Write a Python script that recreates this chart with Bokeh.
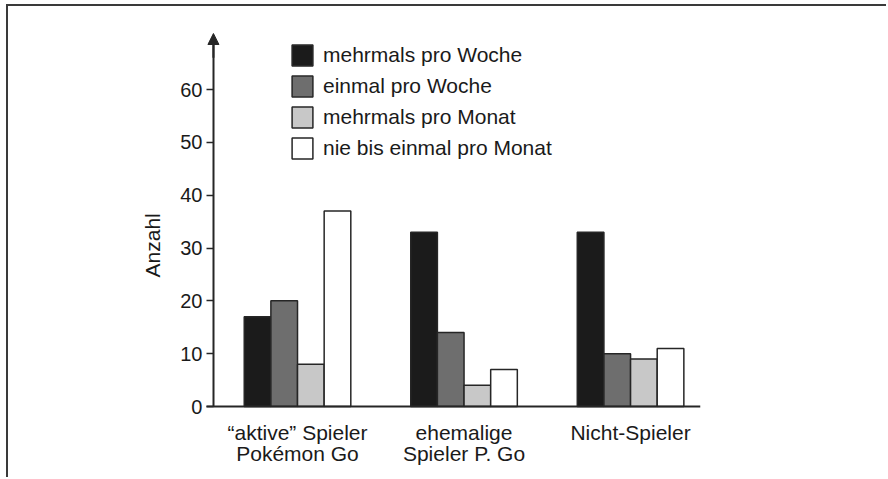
import math
from bokeh.plotting import figure
from bokeh.models import (Range1d, FixedTicker, Legend, LegendItem, Label, Arrow,
                          NormalHead, ColumnDataSource)
from bokeh.embed import file_html
from bokeh.resources import INLINE

# ---- data ----
groups = ["\u201caktive\u201d Spieler\nPok\u00e9mon Go", "ehemalige\nSpieler P. Go", "Nicht-Spieler"]
series = ["mehrmals pro Woche", "einmal pro Woche", "mehrmals pro Monat", "nie bis einmal pro Monat"]
mehrmals_woche = [17, 33, 33]
einmal_woche = [20, 14, 10]
mehrmals_monat = [8, 4, 9]
nie_monat = [37, 7, 11]
y_ticks = [0, 10, 20, 30, 40, 50, 60]
y_label = "Anzahl"

values = [mehrmals_woche, einmal_woche, mehrmals_monat, nie_monat]
colors = ["#1b1b1b", "#6e6e6e", "#c8c8c8", "#ffffff"]
FONT = "Liberation Sans"
INK = "#262626"
TXT = "#1a1a1a"

X0 = -0.505  # position of the y axis (data units)

W, H = 880, 473
p = figure(width=W, height=H, output_backend="svg", toolbar_location=None,
           x_range=Range1d(-1.003, 2.42), y_range=Range1d(-13.06, 71.17),
           min_border_left=122, min_border_right=188, min_border_top=24, min_border_bottom=4)
p.styles = {"border-top": "2px solid #3a3a3a", "border-left": "2px solid #3a3a3a",
            "margin-left": "6px", "margin-top": "4px"}
p.outline_line_color = None
p.xgrid.grid_line_color = None
p.ygrid.grid_line_color = None
p.background_fill_color = "white"
p.border_fill_color = "white"

xs = list(range(len(groups)))
bw = 0.16
offsets = [-1.5, -0.5, 0.5, 1.5]
items = []
for name, vals, col, off in zip(series, values, colors, offsets):
    src = ColumnDataSource(dict(x=[x + off * bw for x in xs], top=vals))
    r = p.vbar(x="x", top="top", width=bw, bottom=0, source=src,
               fill_color=col, line_color=INK, line_width=1.5)
    items.append(LegendItem(label=name, renderers=[r]))

legend = Legend(items=items, location=(159, 314), padding=0, margin=0,
                glyph_width=26, glyph_height=26, spacing=5, label_standoff=8,
                label_text_font=FONT, label_text_font_size="21px", label_text_color=TXT,
                border_line_color=None, background_fill_alpha=0)
p.add_layout(legend, "center")

# y axis
ya = p.yaxis[0]
ya.fixed_location = X0
ya.bounds = (0, 69.5)
ya.ticker = FixedTicker(ticks=y_ticks)
ya.axis_line_color = INK
ya.axis_line_width = 2
ya.major_tick_line_color = INK
ya.major_tick_line_width = 1.5
ya.major_tick_out = 7
ya.major_tick_in = 0
ya.minor_tick_line_color = None
ya.major_label_standoff = 4
ya.major_label_text_font = FONT
ya.major_label_text_font_size = "20px"
ya.major_label_text_color = TXT

# x axis
xa = p.xaxis[0]
xa.fixed_location = 0
xa.bounds = (X0 - 7 / 166.5, 2.42)
xa.ticker = FixedTicker(ticks=xs)
xa.major_label_overrides = {i: g for i, g in zip(xs, groups)}
xa.axis_line_color = INK
xa.axis_line_width = 2
xa.major_tick_line_color = None
xa.minor_tick_line_color = None
xa.major_tick_out = 0
xa.major_tick_in = 0
xa.major_label_standoff = 14
xa.major_label_text_font = FONT
xa.major_label_text_font_size = "21px"
xa.major_label_text_color = TXT
xa.major_label_text_line_height = 0.92

# arrow head on y axis
p.add_layout(Arrow(end=NormalHead(size=11, fill_color=INK, line_color=INK, line_width=1),
                   x_start=X0, y_start=66, x_end=X0, y_end=70.6,
                   line_color=INK, line_width=2))

# y axis title
p.add_layout(Label(x=X0, y=30.5, x_offset=-61, text=y_label, angle=math.pi / 2,
                   text_align="center", text_baseline="middle",
                   text_font=FONT, text_font_size="21px", text_color=TXT))

open("out.html", "w").write(file_html(p, INLINE))
